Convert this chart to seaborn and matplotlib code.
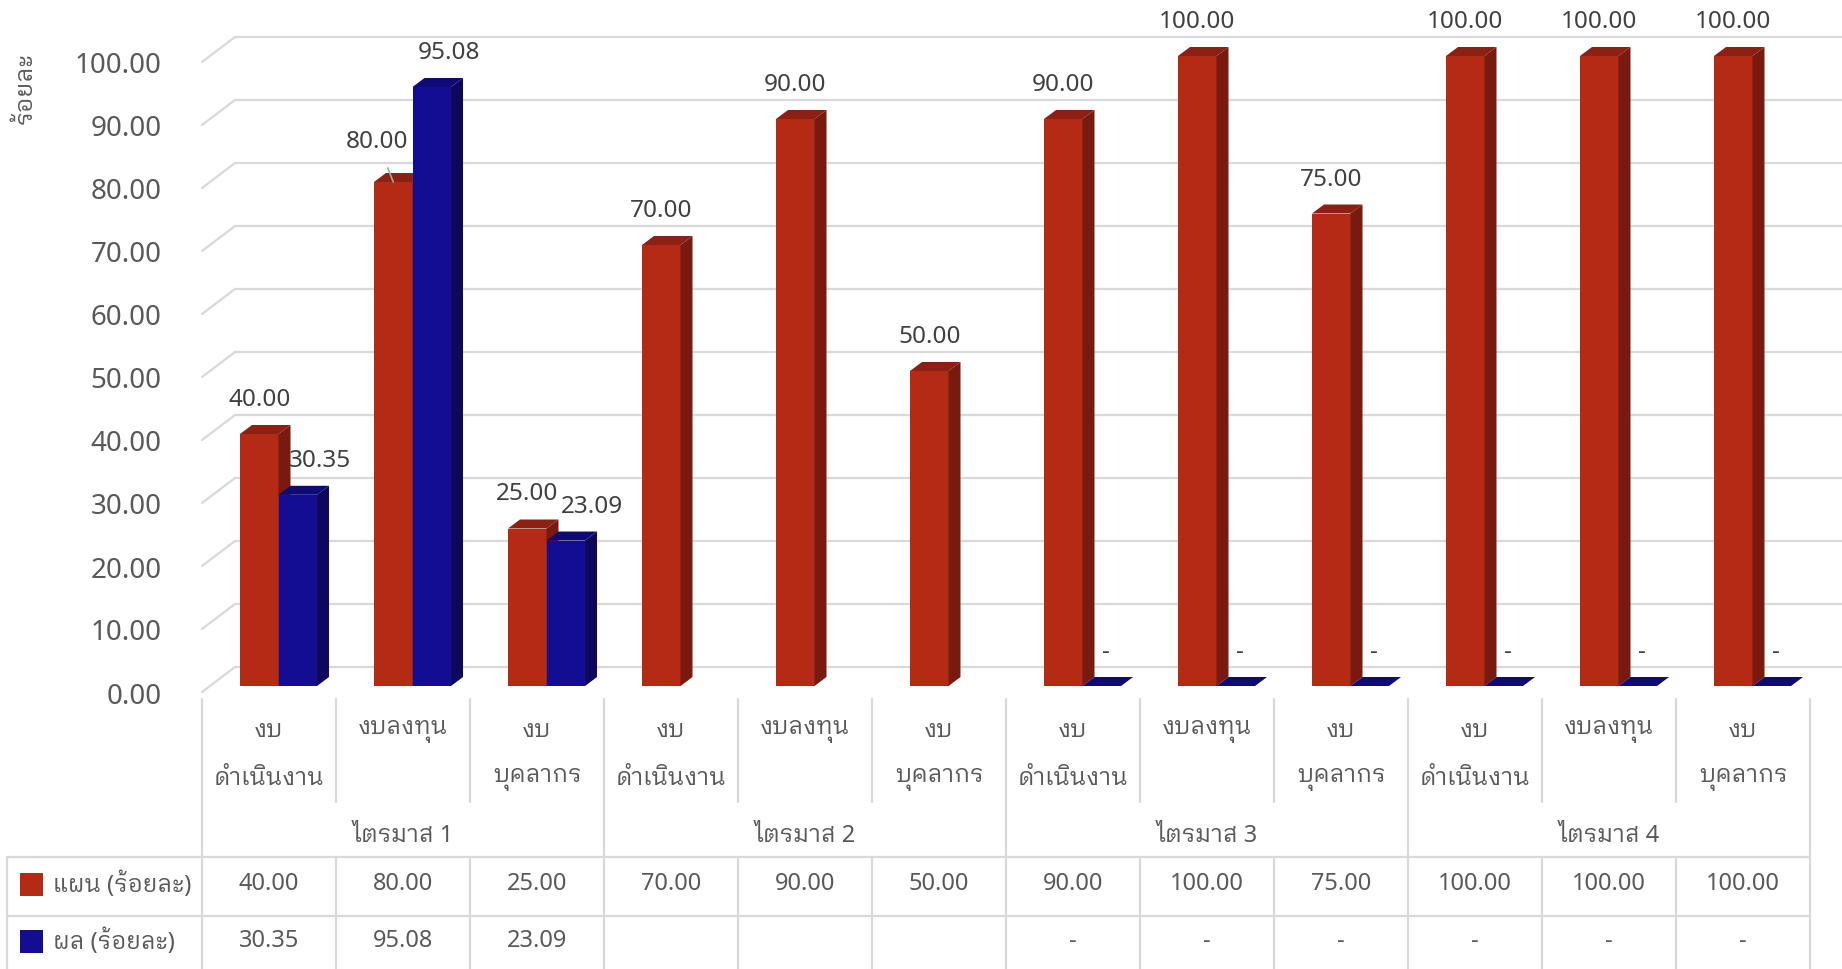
import numpy as np
import pandas as pd
import seaborn as sns
import matplotlib.pyplot as plt
from matplotlib.patches import Polygon, Rectangle
from matplotlib.transforms import blended_transform_factory

# ---- data ----
quarters = ["ไตรมาส 1", "ไตรมาส 2", "ไตรมาส 3", "ไตรมาส 4"]
budget_types = ["งบ\nดำเนินงาน", "งบลงทุน", "งบ\nบุคลากร"]
series_names = ["แผน (ร้อยละ)", "ผล (ร้อยละ)"]
plan = [40.00, 80.00, 25.00, 70.00, 90.00, 50.00, 90.00, 100.00, 75.00, 100.00, 100.00, 100.00]
actual = [30.35, 95.08, 23.09, np.nan, np.nan, np.nan, 0, 0, 0, 0, 0, 0]
y_ticks = [0, 10, 20, 30, 40, 50, 60, 70, 80, 90, 100]

RED, RED_SIDE, RED_TOP = "#B52A15", "#781A0F", "#8C2013"
BLUE, BLUE_SIDE, BLUE_TOP = "#130D94", "#0D085C", "#0F0A76"
GRID = "#D9D9D9"
TXT = "#595959"
LBL = "#404040"

W, H = 1842, 970
sns.set_style("white")
plt.rcParams["font.family"] = ["Noto Sans", "IBM Plex Sans Thai Looped"]

slots = [f"{q}|{b}" for q in quarters for b in budget_types]
df = pd.DataFrame({
    "slot": slots * 2,
    "series": [series_names[0]] * len(slots) + [series_names[1]] * len(slots),
    "value": plan + actual,
}).dropna()

fig = plt.figure(figsize=(W / 100, H / 100), dpi=100)
ax = fig.add_axes([202 / W, 1 - 693 / H, 1608 / W, 693 / H])
sns.barplot(data=df, x="slot", y="value", hue="series", order=slots,
            hue_order=series_names, palette=[RED, BLUE], saturation=1,
            width=0.575, errorbar=None, legend=False, linewidth=0, ax=ax)
ax.set_xlim(-0.5, len(slots) - 0.5)
ax.set_ylim(0, 110)
sns.despine(ax=ax, left=True, bottom=True)
ax.set_xticks([])
ax.set_xlabel("")
ax.set_ylabel("")
ax.set_yticks(y_ticks)
ax.set_yticklabels([f"{v:.2f}" for v in y_ticks])
ax.tick_params(axis="y", length=0, pad=29, labelsize=20, labelcolor=TXT)


def px2data(dx, dy):
    p0 = ax.transData.transform((0, 0))
    return ax.transData.inverted().transform((p0[0] + dx, p0[1] + dy))


wall_dx, wall_dy = px2data(33, 25)    # back wall depth
plane_dx, plane_dy = px2data(9.5, 6)  # where the bars stand
bar_dx, bar_dy = px2data(12, 9)       # bar depth

# back wall gridlines + side wall diagonals
for v in y_ticks:
    ax.plot([-0.5 + wall_dx, len(slots) - 0.5 + wall_dx], [v + wall_dy] * 2,
            color=GRID, lw=1.6, zorder=1, clip_on=False)
    ax.plot([-0.5, -0.5 + wall_dx], [v, v + wall_dy],
            color=GRID, lw=1.6, zorder=1, clip_on=False)

# 3D faces on each bar
faces = [(RED_SIDE, RED_TOP), (BLUE_SIDE, BLUE_TOP)]
values = [plan, actual]
label_nudge = {(0, 1): (-16, 6), (1, 0): (22, 0), (1, 1): (17, 0), (1, 2): (26, 0)}
for s, cont in enumerate(ax.containers):
    for p in cont.patches:
        h = p.get_height()
        if not np.isfinite(h):
            continue
        x0 = p.get_x() + plane_dx
        w = p.get_width()
        i = int(round(p.get_x() + w / 2))
        z = 3 + i * 2 + s
        p.set_x(x0)
        p.set_y(plane_dy)
        p.set_zorder(z)
        x1 = x0 + w
        y0, y1 = plane_dy, plane_dy + h
        side = Polygon([(x1, y0), (x1, y1), (x1 + bar_dx, y1 + bar_dy), (x1 + bar_dx, y0 + bar_dy)],
                       closed=True, facecolor=faces[s][0], edgecolor="none", zorder=z)
        top = Polygon([(x0, y1), (x1, y1), (x1 + bar_dx, y1 + bar_dy), (x0 + bar_dx, y1 + bar_dy)],
                      closed=True, facecolor=faces[s][1], edgecolor="none", zorder=z)
        ax.add_patch(side)
        ax.add_patch(top)

        v = values[s][i]
        txt = f"{v:.2f}" if v != 0 else "-"
        ndx, ndy = label_nudge.get((s, i), (4, 0) if v == 0 else (0, 0))
        kw = {}
        if (s, i) == (0, 1):
            kw["arrowprops"] = dict(arrowstyle="-", color="#A6A6A6", lw=1.2, shrinkA=9, shrinkB=0)
        ax.annotate(txt, xy=(x0 + w / 2, y1), xytext=(ndx * 0.72, (35 + ndy) * 0.72),
                    textcoords="offset points", ha="center", va="center",
                    fontsize=17.5, color=LBL, zorder=40, annotation_clip=False, **kw)

# ---- data table under the chart ----
bt = blended_transform_factory(ax.transData, fig.transFigure)
ft = fig.transFigure


def fy(px):
    return 1 - px / H


n = len(slots)
right = n - 0.5
for k in range(n + 1):
    xb = -0.5 + k
    if k % 3 == 0:
        ax.plot([xb, xb], [fy(700), fy(970)], color=GRID, lw=1.6, transform=bt, clip_on=False)
    else:
        ax.plot([xb, xb], [fy(700), fy(803)], color=GRID, lw=1.6, transform=bt, clip_on=False)
        ax.plot([xb, xb], [fy(858), fy(970)], color=GRID, lw=1.6, transform=bt, clip_on=False)

x_right_fig = ax.transData.transform((right, 0))[0] / W
for ypx in (858, 917):
    fig.add_artist(plt.Line2D([7 / W, x_right_fig], [fy(ypx)] * 2, color=GRID, lw=1.6))
fig.add_artist(plt.Line2D([7 / W, 7 / W], [fy(858), fy(970)], color=GRID, lw=1.6))

for i, slot in enumerate(slots):
    b = budget_types[i % 3]
    for j, line in enumerate(b.split("\n")):
        ax.text(i, fy(731 + 48 * j), line, transform=bt, ha="center", va="center",
                fontsize=17, color=TXT)
    ax.text(i, fy(884), f"{plan[i]:.2f}", transform=bt, ha="center", va="center",
            fontsize=17, color=TXT)
    a = actual[i]
    if np.isfinite(a):
        ax.text(i, fy(941), f"{a:.2f}" if a != 0 else "-", transform=bt,
                ha="center", va="center", fontsize=17, color=TXT)

for q, name in enumerate(quarters):
    ax.text(q * 3 + 1, fy(836), name, transform=bt, ha="center", va="center",
            fontsize=17, color=TXT)

for r, (name, col) in enumerate(zip(series_names, [RED, BLUE])):
    yc = 885 + 57 * r
    fig.add_artist(Rectangle((20 / W, fy(yc + 11.5)), 23 / W, 23 / H,
                             facecolor=col, edgecolor="none", transform=ft))
    fig.text(53 / W, fy(yc), name, ha="left", va="center", fontsize=17, color=TXT)

fig.text(26 / W, fy(88), "ร้อยละ", rotation=90, ha="center", va="center",
         fontsize=17.5, color=TXT)

fig.savefig("out.png", dpi=100, facecolor="white")
